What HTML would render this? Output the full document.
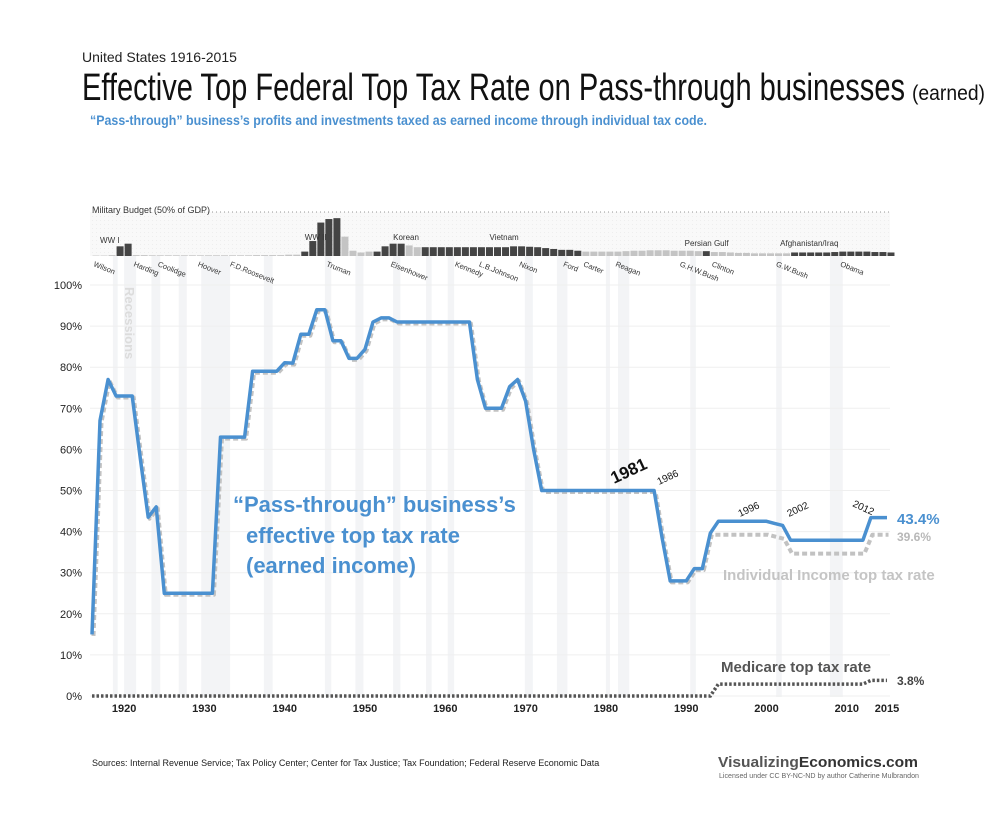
<!DOCTYPE html>
<html><head><meta charset="utf-8"><style>
html,body{margin:0;padding:0;background:#fff;}
svg{display:block;font-family:"Liberation Sans",sans-serif;}
</style></head><body>
<svg id="chart" width="1000" height="819" viewBox="0 0 1000 819" xmlns="http://www.w3.org/2000/svg">
<defs>
<pattern id="dots" width="4" height="4" patternUnits="userSpaceOnUse"><rect width="4" height="4" fill="#f9f9f9"/><rect width="1" height="1" fill="#eeeeee"/></pattern>
</defs>
<text x="82" y="62" font-family="Liberation Sans Narrow, Liberation Sans, sans-serif" font-size="14" fill="#222">United States 1916-2015</text>
<text x="82" y="100" font-family="Liberation Sans Narrow, Liberation Sans, sans-serif" font-size="38" fill="#111" textLength="823" lengthAdjust="spacingAndGlyphs">Effective Top Federal Top Tax Rate on Pass-through businesses</text>
<text x="912" y="100" font-family="Liberation Sans Narrow, Liberation Sans, sans-serif" font-size="21" fill="#111" textLength="73" lengthAdjust="spacingAndGlyphs">(earned)</text>
<text x="90" y="125" font-size="14" font-weight="bold" fill="#4a90d0" textLength="617" lengthAdjust="spacingAndGlyphs">“Pass-through” business’s profits and investments taxed as earned income through individual tax code.</text>
<g id="plot"></g>
<text x="92" y="766" font-size="9" fill="#222">Sources: Internal Revenue Service; Tax Policy Center; Center for Tax Justice; Tax Foundation; Federal Reserve Economic Data</text>
<text x="718" y="767" font-size="15" font-weight="bold" fill="#333" textLength="200" lengthAdjust="spacingAndGlyphs"><tspan fill="#555">Visualizing</tspan>Economics.com</text>
<text x="719" y="778" font-size="7.5" fill="#666" textLength="200" lengthAdjust="spacingAndGlyphs">Licensed under CC BY-NC-ND by author Catherine Mulbrandon</text>
</svg>
<script>
const years = [];
for (let y = 1916; y <= 2015; y++) years.push(y);
const individualRate = [15,67,77,73,73,73,58,43.5,46,25, 25,25,25,25,25,25,63,63,63,63, 79,79,79,79,81.1,81,88,88,94,94, 86.45,86.45,82.13,82.13,84.36,91,92,92,91,91, 91,91,91,91,91,91,91,91,77,70, 70,70,75.25,77,71.75,60,50,50,50,50, 50,50,50,50,50,50,50,50,50,50, 50,38.5,28,28,28,31,31,39.6,39.6,39.6, 39.6,39.6,39.6,39.6,39.6,39.1,38.6,35,35,35, 35,35,35,35,35,35,35,39.6,39.6,39.6];
const medicareRate = [0,0,0,0,0,0,0,0,0,0, 0,0,0,0,0,0,0,0,0,0, 0,0,0,0,0,0,0,0,0,0, 0,0,0,0,0,0,0,0,0,0, 0,0,0,0,0,0,0,0,0,0, 0,0,0,0,0,0,0,0,0,0, 0,0,0,0,0,0,0,0,0,0, 0,0,0,0,0,0,0,0,2.9,2.9, 2.9,2.9,2.9,2.9,2.9,2.9,2.9,2.9,2.9,2.9, 2.9,2.9,2.9,2.9,2.9,2.9,2.9,3.8,3.8,3.8];
const militaryPct = [0.5,0.5,1,11,14,1,1,0.8,0.8,0.8, 0.8,0.8,0.8,0.8,0.8,0.8,0.8,0.8,0.8,0.8, 1,1,1,1,1.5,1.5,5,17,38,42, 43,22,6,4,5,5,11,14,14,12, 10,10,10,10,10,10,10,10,10,10, 10,10,11,11,10.5,10,9,8,7,7, 6,5,5,5,5,5,5.5,6,6,6.5, 6.5,6.5,6,6,6,5.5,5.5,4.5,4.5,4, 3.5,3.5,3,3,3,3,3,4,4,4, 4,4,4.5,5,5,5,5,4.5,4.5,4];
const militaryDarkRanges = [[1919,1920],[1942,1946],[1951,1954],[1957,1976],[1992,1992],[2003,2015]];
const recessions = [[1918.6,1919.2],[1920,1921.5],[1923.4,1924.5],[1926.8,1927.8],[1929.6,1933.2],[1937.4,1938.5],[1945,1945.8],[1948.8,1949.8],[1953.5,1954.4],[1957.6,1958.3],[1960.3,1961.1],[1969.9,1970.9],[1973.9,1975.2],[1980,1980.5],[1981.5,1982.9],[1990.5,1991.2],[2001.2,2001.9],[2007.9,2009.5]];
const yTicks = [0,10,20,30,40,50,60,70,80,90,100];
const xTicks = [1920,1930,1940,1950,1960,1970,1980,1990,2000,2010,2015];
const presidents = [["Wilson",1916],["Harding",1921],["Coolidge",1924],["Hoover",1929],["F.D.Roosevelt",1933],["Truman",1945],["Eisenhower",1953],["Kennedy",1961],["L.B.Johnson",1964],["Nixon",1969],["Ford",1974.5],["Carter",1977],["Reagan",1981],["G.H.W.Bush",1989],["Clinton",1993],["G.W.Bush",2001],["Obama",2009]];
const wars = [["WW I",1917],["WW II",1942.5],["Korean",1953.5],["Vietnam",1965.5],["Persian Gulf",1989.8],["Afghanistan/Iraq",2001.7]];

const NS = "http://www.w3.org/2000/svg";
const plot = document.getElementById('plot');
const X = yr => 92 + (yr - 1916) * 8.03;
const Y = v => 696 - v * 4.11;
const MB = v => 256 - v * 0.88;
function mk(tag, attrs, parent, text) {
  const e = document.createElementNS(NS, tag);
  for (const k in attrs) e.setAttribute(k, attrs[k]);
  if (text !== undefined) e.textContent = text;
  (parent || plot).appendChild(e);
  return e;
}
let el;
recessions.forEach(r => {
  el = mk('rect', {x: X(r[0]), y: 256, width: X(r[1]) - X(r[0]), height: 441, fill: '#f3f4f6'});
  
  
});
el = mk('text', {x: 0, y: 0, transform: `translate(125,287) rotate(90)`, 'font-size': 13, 'font-weight': 'bold', fill: '#dcdcdc'}, plot, 'Recessions');


yTicks.forEach(t => {
  el = mk('line', {x1: 90, x2: 890, y1: Y(t), y2: Y(t), stroke: '#efefef', 'stroke-width': 1});
  
  
  el = mk('text', {x: 82, y: Y(t) + 4, 'text-anchor': 'end', 'font-size': 11, fill: '#222'}, plot, t + '%');
  
  
});
xTicks.forEach(t => {
  el = mk('text', {x: X(t), y: 712, 'text-anchor': 'middle', 'font-size': 11, 'font-weight': 'bold', fill: '#222'}, plot, String(t));
  
  
});
el = mk('rect', {x: 90, y: 212, width: 800, height: 44, fill: 'url(#dots)'});


el = mk('line', {x1: 200, x2: 890, y1: 212, y2: 212, stroke: '#999', 'stroke-width': 1, 'stroke-dasharray': '1,3'});


el = mk('text', {x: 92, y: 213, 'font-size': 9, fill: '#333'}, plot, 'Military Budget (50% of GDP)');


const isDark = yr => militaryDarkRanges.some(r => yr >= r[0] && yr <= r[1]);
years.forEach((yr, i) => {
  const v = militaryPct[i];
  el = mk('rect', {x: X(yr) + 0.5, y: MB(v), width: 7, height: 256 - MB(v), fill: isDark(yr) ? '#444' : '#c4c4c4'});
  
  
});
wars.forEach(w => {
  el = mk('text', {x: X(w[1]), y: w[0] === 'WW I' ? 243 : (w[0] === 'Persian Gulf' || w[0] === 'Afghanistan/Iraq' ? 246 : 240), 'font-size': 8, fill: '#333'}, plot, w[0]);
  
  
});
presidents.forEach(p => {
  el = mk('text', {x: 0, y: 0, transform: `translate(${X(p[1]) + 1},266) rotate(22)`, 'font-size': 7.5, fill: '#333'}, plot, p[0]);
  
  
});
const pts = arr => years.map((yr, i) => X(yr).toFixed(1) + ',' + Y(arr[i]).toFixed(1)).join(' ');
el = mk('polyline', {points: years.map((yr, i) => (X(yr) + 1.5).toFixed(1) + ',' + (Y(individualRate[i]) + 1.5).toFixed(1)).join(' '), fill: 'none', stroke: '#c2c2c2', 'stroke-width': 4, 'stroke-dasharray': '5,3', 'stroke-linejoin': 'round'});


el = mk('polyline', {points: pts(medicareRate), fill: 'none', stroke: '#555', 'stroke-width': 3.5, 'stroke-dasharray': '2.5,2'});


el = mk('polyline', {points: pts(individualRate.map((v, i) => v + medicareRate[i])), fill: 'none', stroke: '#4a90d0', 'stroke-width': 3.5, 'stroke-linejoin': 'round'});


const ann = [
 ['pass-through-label-1', 233, 512, 22, '#4a90d0', '“Pass-through” business’s', 'bold'],
 ['pass-through-label-2', 246, 543, 22, '#4a90d0', 'effective top tax rate', 'bold'],
 ['pass-through-label-3', 246, 573, 22, '#4a90d0', '(earned income)', 'bold'],
 ['end-value-pass-through', 897, 524, 15, '#4a90d0', '43.4%', 'bold'],
 ['end-value-individual', 897, 541, 12, '#b8b8b8', '39.6%', 'bold'],
 ['individual-rate-label', 723, 580, 15, '#c4c4c4', 'Individual Income top tax rate', 'bold'],
 ['medicare-rate-label', 721, 672, 15, '#555', 'Medicare top tax rate', 'bold'],
 ['end-value-medicare', 897, 685, 12, '#444', '3.8%', 'bold']
];
ann.forEach(a => {
  el = mk('text', {x: a[1], y: a[2], 'font-size': a[3], fill: a[4], 'font-weight': a[6]}, plot, a[5]);
  
  
});
const yearNotes = [['1981', 614, 484, 17, 'bold'], ['1986', 659, 485, 10, 'normal'], ['1996', 740, 517, 10, 'normal'], ['2002', 789, 517, 10, 'normal'], ['2012', 852, 506, 10, 'normal']];
yearNotes.forEach(n => {
  el = mk('text', {x: 0, y: 0, transform: `translate(${n[1]},${n[2]}) rotate(${n[0] === '2012' ? 25 : -25})`, 'font-size': n[3], 'font-weight': n[4], fill: '#111'}, plot, n[0]);
  
  
});
</script>
</body></html>
